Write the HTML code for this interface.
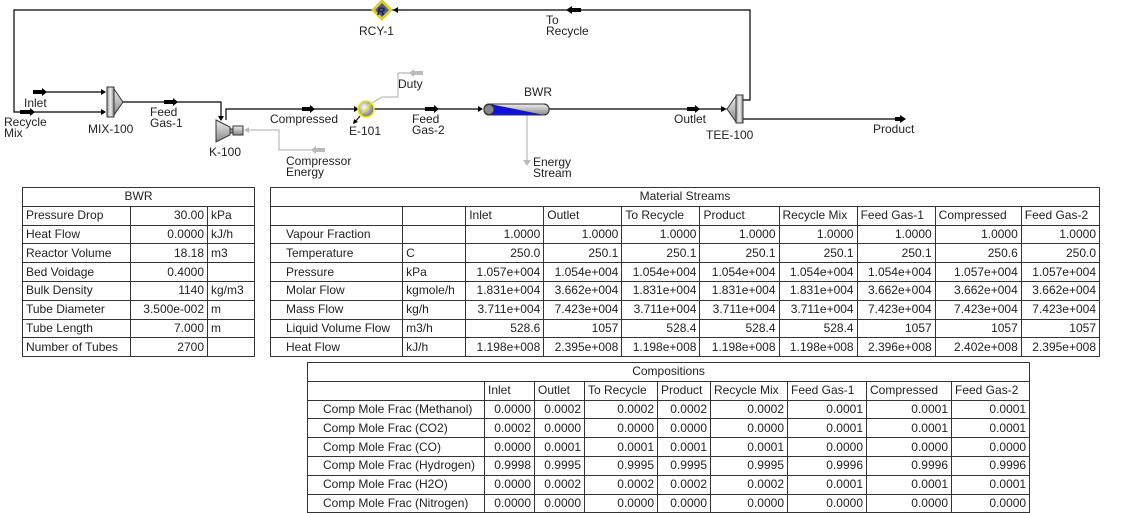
<!DOCTYPE html>
<html><head><meta charset="utf-8"><style>
body{margin:0;width:1127px;height:512px;background:#fff;overflow:hidden;position:relative;font-family:"Liberation Sans",Arial,sans-serif;font-size:12px;color:#222}
svg{position:absolute;left:0;top:0}
table{position:absolute;border-collapse:collapse;table-layout:fixed}
td{border:1px solid #333;padding:0 3px;height:18.8px;line-height:17px;white-space:nowrap;overflow:hidden;font-size:12px;box-sizing:border-box}
.r{text-align:right}
.c{text-align:center}
</style></head><body>
<svg width="1127" height="190" font-family="Liberation Sans, Arial, sans-serif" font-size="12" fill="#222">
<defs>
<linearGradient id="g" x1="0" y1="0" x2="0" y2="1"><stop offset="0" stop-color="#eee"/><stop offset="1" stop-color="#888"/></linearGradient>
<linearGradient id="gh" x1="0" y1="0" x2="1" y2="0"><stop offset="0" stop-color="#999"/><stop offset="0.5" stop-color="#eee"/><stop offset="1" stop-color="#888"/></linearGradient>
<radialGradient id="rg" cx="0.4" cy="0.4" r="0.6"><stop offset="0" stop-color="#fff"/><stop offset="1" stop-color="#777"/></radialGradient>
</defs>
<g stroke="#000" fill="none" stroke-width="1.2">
<polyline points="392,10 14,10 14,112 105,112"/>
<line x1="34" y1="92" x2="105" y2="92"/>
<polyline points="123,102 221,102 221,119"/>
<polyline points="226,120 226,109 358,109"/>
<line x1="374" y1="109" x2="482" y2="109"/>
<line x1="549" y1="109" x2="725" y2="109"/>
<polyline points="743,100 750,100 750,10 392,10"/>
<line x1="743" y1="119" x2="905" y2="119"/>
</g>
<g stroke="#bbb" fill="none" stroke-width="1.2">
<polyline points="246,130 279,130 279,150 325,150"/>
<polyline points="372,103 382,97 398,97 398,73 422,73"/>
<line x1="527" y1="115" x2="527" y2="163"/>
</g>
<g fill="#000">
<rect x="20" y="110" width="10" height="4"/><polygon points="30,108 35,112 30,116"/>
<rect x="33" y="90" width="9" height="4"/><polygon points="42,88 47,92 42,96"/>
<rect x="164" y="100" width="9" height="4"/><polygon points="173,98 178,102 173,106"/>
<rect x="302" y="107" width="8" height="4"/><polygon points="310,105 315,109 310,113"/>
<rect x="425" y="107" width="9" height="4"/><polygon points="434,105 439,109 434,113"/>
<rect x="687" y="107" width="8" height="4"/><polygon points="695,105 700,109 695,113"/>
<rect x="895" y="117" width="6" height="4"/><polygon points="900,115 906,119 900,123"/>
<rect x="572" y="8" width="9" height="4"/><polygon points="572,6 566,10 572,14"/>
<polygon points="101,109 106,112 101,115"/><polygon points="101,89 106,92 101,95"/>
<polygon points="218,116 221,121 224,116"/>
<polygon points="354,106 359,109 354,112"/>
<polygon points="478,106 483,109 478,112"/>
<polygon points="721,106 727,109 721,112"/>
<polygon points="398,7 393,10 398,13"/>
<line x1="360" y1="116" x2="355" y2="122" stroke="#000"/><polygon points="353,124 354,119 358,122"/>
</g>
<g fill="#bbb">
<rect x="414" y="71" width="9" height="4"/><polygon points="414,69 409,73 414,77"/>
<rect x="316" y="148" width="9" height="4"/><polygon points="316,146 311,150 316,154"/>
<polygon points="249,127 244,130 249,133"/>
<polygon points="523,160 527,166 531,160"/>
</g>
<rect x="107" y="87" width="7" height="30" fill="url(#gh)" stroke="#333"/>
<polygon points="114,89 123,102 114,115" fill="url(#g)" stroke="#333"/>
<polygon points="216,120 230,127 230,135 216,142" fill="url(#g)" stroke="#333"/>
<rect x="230" y="129" width="3" height="4" fill="#999" stroke="#333"/>
<rect x="233" y="126" width="10" height="9" fill="url(#g)" stroke="#333"/>
<circle cx="366" cy="109" r="8" fill="url(#rg)" stroke="#ee0" stroke-width="1.5"/>
<line x1="360" y1="115" x2="372" y2="103" stroke="#ee0"/>
<rect x="484" y="104" width="65" height="11" rx="5" fill="url(#g)" stroke="#333"/>
<polygon points="490,104 490,115 544,115" fill="#1010e0"/>
<circle cx="489" cy="109.5" r="5" fill="#888" stroke="#333"/>
<rect x="484" y="104" width="65" height="11" rx="5" fill="none" stroke="#333"/>
<polygon points="736,96 727,109 736,122" fill="url(#g)" stroke="#333"/>
<rect x="736" y="95" width="7" height="28" fill="url(#gh)" stroke="#333"/>
<polygon points="382,0 392,10 382,20 372,10" fill="#e8d030" stroke="#cc0"/>
<polygon points="382,3 389,10 382,17 375,10" fill="#4a5a9a"/>
<text x="377" y="15" fill="#223" font-weight="bold" font-style="italic" font-size="11">R</text>
<text x="359" y="35">RCY-1</text>
<text x="546" y="24">To</text><text x="546" y="35">Recycle</text>
<text x="24" y="107">Inlet</text>
<text x="4" y="126">Recycle</text><text x="4" y="137">Mix</text>
<text x="88" y="133">MIX-100</text>
<text x="150" y="116">Feed</text><text x="150" y="127">Gas-1</text>
<text x="209" y="156">K-100</text>
<text x="270" y="123">Compressed</text>
<text x="349" y="135">E-101</text>
<text x="398" y="88">Duty</text>
<text x="412" y="123">Feed</text><text x="412" y="134">Gas-2</text>
<text x="286" y="165">Compressor</text><text x="286" y="176">Energy</text>
<text x="524" y="96">BWR</text>
<text x="533" y="166">Energy</text><text x="533" y="177">Stream</text>
<text x="674" y="123">Outlet</text>
<text x="706" y="139">TEE-100</text>
<text x="873" y="133">Product</text>
</svg>

<table style="left:22px;top:187px;width:232px">
<colgroup><col style="width:108px"><col style="width:77px"><col style="width:47px"></colgroup>
<tr><td colspan="3" class="c">BWR</td></tr>
<tr><td>Pressure Drop</td><td class="r">30.00</td><td>kPa</td></tr>
<tr><td>Heat Flow</td><td class="r">0.0000</td><td>kJ/h</td></tr>
<tr><td>Reactor Volume</td><td class="r">18.18</td><td>m3</td></tr>
<tr><td>Bed Voidage</td><td class="r">0.4000</td><td></td></tr>
<tr><td>Bulk Density</td><td class="r">1140</td><td>kg/m3</td></tr>
<tr><td>Tube Diameter</td><td class="r">3.500e-002</td><td>m</td></tr>
<tr><td>Tube Length</td><td class="r">7.000</td><td>m</td></tr>
<tr><td>Number of Tubes</td><td class="r">2700</td><td></td></tr>
</table>

<table style="left:270px;top:187px;width:830px">
<colgroup><col style="width:132px"><col style="width:63px"><col style="width:78px"><col style="width:78px"><col style="width:78px"><col style="width:79px"><col style="width:78px"><col style="width:78px"><col style="width:86px"><col style="width:78px"></colgroup>
<tr><td colspan="10" class="c">Material Streams</td></tr>
<tr><td></td><td></td><td>Inlet</td><td>Outlet</td><td>To Recycle</td><td>Product</td><td>Recycle Mix</td><td>Feed Gas-1</td><td>Compressed</td><td>Feed Gas-2</td></tr>
<tr><td style="padding-left:15px">Vapour Fraction</td><td></td><td class="r">1.0000</td><td class="r">1.0000</td><td class="r">1.0000</td><td class="r">1.0000</td><td class="r">1.0000</td><td class="r">1.0000</td><td class="r">1.0000</td><td class="r">1.0000</td></tr>
<tr><td style="padding-left:15px">Temperature</td><td>C</td><td class="r">250.0</td><td class="r">250.1</td><td class="r">250.1</td><td class="r">250.1</td><td class="r">250.1</td><td class="r">250.1</td><td class="r">250.6</td><td class="r">250.0</td></tr>
<tr><td style="padding-left:15px">Pressure</td><td>kPa</td><td class="r">1.057e+004</td><td class="r">1.054e+004</td><td class="r">1.054e+004</td><td class="r">1.054e+004</td><td class="r">1.054e+004</td><td class="r">1.054e+004</td><td class="r">1.057e+004</td><td class="r">1.057e+004</td></tr>
<tr><td style="padding-left:15px">Molar Flow</td><td>kgmole/h</td><td class="r">1.831e+004</td><td class="r">3.662e+004</td><td class="r">1.831e+004</td><td class="r">1.831e+004</td><td class="r">1.831e+004</td><td class="r">3.662e+004</td><td class="r">3.662e+004</td><td class="r">3.662e+004</td></tr>
<tr><td style="padding-left:15px">Mass Flow</td><td>kg/h</td><td class="r">3.711e+004</td><td class="r">7.423e+004</td><td class="r">3.711e+004</td><td class="r">3.711e+004</td><td class="r">3.711e+004</td><td class="r">7.423e+004</td><td class="r">7.423e+004</td><td class="r">7.423e+004</td></tr>
<tr><td style="padding-left:15px">Liquid Volume Flow</td><td>m3/h</td><td class="r">528.6</td><td class="r">1057</td><td class="r">528.4</td><td class="r">528.4</td><td class="r">528.4</td><td class="r">1057</td><td class="r">1057</td><td class="r">1057</td></tr>
<tr><td style="padding-left:15px">Heat Flow</td><td>kJ/h</td><td class="r">1.198e+008</td><td class="r">2.395e+008</td><td class="r">1.198e+008</td><td class="r">1.198e+008</td><td class="r">1.198e+008</td><td class="r">2.396e+008</td><td class="r">2.402e+008</td><td class="r">2.395e+008</td></tr>
</table>

<table style="left:307px;top:362px;width:722px">
<colgroup><col style="width:177px"><col style="width:50px"><col style="width:50px"><col style="width:73px"><col style="width:53px"><col style="width:77px"><col style="width:79px"><col style="width:85px"><col style="width:78px"></colgroup>
<tr><td colspan="9" class="c">Compositions</td></tr>
<tr><td></td><td>Inlet</td><td>Outlet</td><td>To Recycle</td><td>Product</td><td>Recycle Mix</td><td>Feed Gas-1</td><td>Compressed</td><td>Feed Gas-2</td></tr>
<tr><td style="padding-left:15px">Comp Mole Frac (Methanol)</td><td class="r">0.0000</td><td class="r">0.0002</td><td class="r">0.0002</td><td class="r">0.0002</td><td class="r">0.0002</td><td class="r">0.0001</td><td class="r">0.0001</td><td class="r">0.0001</td></tr>
<tr><td style="padding-left:15px">Comp Mole Frac (CO2)</td><td class="r">0.0002</td><td class="r">0.0000</td><td class="r">0.0000</td><td class="r">0.0000</td><td class="r">0.0000</td><td class="r">0.0001</td><td class="r">0.0001</td><td class="r">0.0001</td></tr>
<tr><td style="padding-left:15px">Comp Mole Frac (CO)</td><td class="r">0.0000</td><td class="r">0.0001</td><td class="r">0.0001</td><td class="r">0.0001</td><td class="r">0.0001</td><td class="r">0.0000</td><td class="r">0.0000</td><td class="r">0.0000</td></tr>
<tr><td style="padding-left:15px">Comp Mole Frac (Hydrogen)</td><td class="r">0.9998</td><td class="r">0.9995</td><td class="r">0.9995</td><td class="r">0.9995</td><td class="r">0.9995</td><td class="r">0.9996</td><td class="r">0.9996</td><td class="r">0.9996</td></tr>
<tr><td style="padding-left:15px">Comp Mole Frac (H2O)</td><td class="r">0.0000</td><td class="r">0.0002</td><td class="r">0.0002</td><td class="r">0.0002</td><td class="r">0.0002</td><td class="r">0.0001</td><td class="r">0.0001</td><td class="r">0.0001</td></tr>
<tr><td style="padding-left:15px">Comp Mole Frac (Nitrogen)</td><td class="r">0.0000</td><td class="r">0.0000</td><td class="r">0.0000</td><td class="r">0.0000</td><td class="r">0.0000</td><td class="r">0.0000</td><td class="r">0.0000</td><td class="r">0.0000</td></tr>
</table>
</body></html>
